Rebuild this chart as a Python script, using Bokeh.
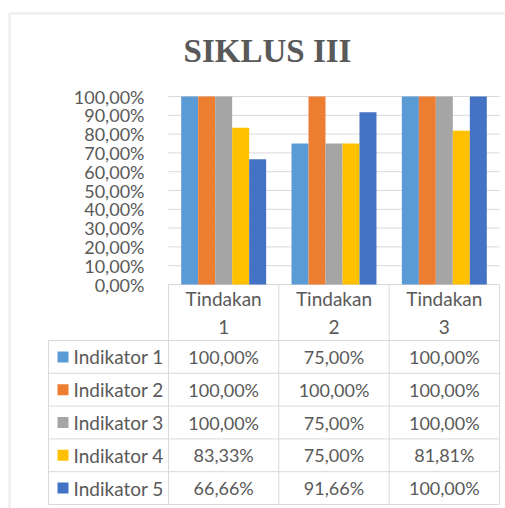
from bokeh.plotting import figure
from bokeh.models import Range1d, FixedTicker, LinearAxis, ColumnDataSource
from bokeh.embed import file_html
from bokeh.resources import INLINE
from bokeh.transform import dodge
from bokeh.core.properties import value

# ---------------- data ----------------
chart_title = "SIKLUS III"
categories = ["Tindakan 1", "Tindakan 2", "Tindakan 3"]
header_labels = ["Tindakan\n1", "Tindakan\n2", "Tindakan\n3"]
series_names = ["Indikator 1", "Indikator 2", "Indikator 3", "Indikator 4", "Indikator 5"]
indikator_1 = [100.00, 75.00, 100.00]
indikator_2 = [100.00, 100.00, 100.00]
indikator_3 = [100.00, 75.00, 100.00]
indikator_4 = [83.33, 75.00, 81.81]
indikator_5 = [66.66, 91.66, 100.00]
y_ticks = [0, 10, 20, 30, 40, 50, 60, 70, 80, 90, 100]
y_tick_labels = ["0,00%", "10,00%", "20,00%", "30,00%", "40,00%", "50,00%",
                 "60,00%", "70,00%", "80,00%", "90,00%", "100,00%"]
colors = ["#5B9BD5", "#ED7D31", "#A5A5A5", "#FFC000", "#4472C4"]

series = [indikator_1, indikator_2, indikator_3, indikator_4, indikator_5]

# ---------------- layout / style constants (pixels) ----------------
W, H = 505, 508
TXT = "#595959"
GRID = "#D9D9D9"
FRAME_LINE = "#EBEBEB"
FONT = "Lato"
X0_PX = 168.0          # px of the first category's left edge
CAT_PX = 110.33        # px per category
ZERO_Y = 284.0         # px of the 0 % line
PX_PER_PCT = 1.88      # px per 1 %
ROW_PX = 32.8          # table row height
HEADER_PX = 56.0       # table header height
LEGEND_PX = 120.0      # legend column width
BORDER_X, BORDER_Y = 9.0, 13.0
TITLE_CX, TITLE_CY = 267.0, 50.0

def ux(px):
    return (px - X0_PX) / CAT_PX

def upct(py):
    return (ZERO_Y - py) / PX_PER_PCT

HEADER_ROWS = HEADER_PX / ROW_PX

def urow(py):
    return -HEADER_ROWS + (py - ZERO_Y) / ROW_PX

LEGEND_W = LEGEND_PX / CAT_PX

p = figure(width=W, height=H, x_range=Range1d(ux(0), ux(W)), y_range=Range1d(upct(H), upct(0)),
           output_backend="svg", toolbar_location=None,
           x_axis_location=None, y_axis_location=None,
           min_border_left=0, min_border_right=0, min_border_top=0, min_border_bottom=0)
p.extra_y_ranges = {"table": Range1d(urow(H), urow(0))}
p.background_fill_color = "white"
p.border_fill_color = "white"
p.outline_line_color = None
p.grid.visible = False

# faint chart-area border (top + left edges)
p.segment(x0=[ux(BORDER_X), ux(BORDER_X)], x1=[ux(W), ux(BORDER_X)],
          y0=[upct(BORDER_Y), upct(BORDER_Y)], y1=[upct(BORDER_Y), upct(H)],
          line_color=FRAME_LINE, line_width=2)

# ---------------- bars ----------------
xpos = [j + 0.5 for j in range(len(categories))]
src = ColumnDataSource(dict(cat=categories, xpos=xpos, **{f"s{i}": s for i, s in enumerate(series)}))

p.segment(x0=[0] * len(y_ticks), x1=[len(categories)] * len(y_ticks), y0=y_ticks, y1=y_ticks,
          line_color=GRID, line_width=1)

bw = 0.154
for i in range(len(series)):
    off = (i - 2) * bw
    p.vbar(x=dodge("xpos", off), top=f"s{i}", bottom=0, width=bw, source=src,
           fill_color=colors[i], line_color=None)

yaxis = LinearAxis(fixed_location=0, ticker=FixedTicker(ticks=y_ticks))
yaxis.major_label_overrides = {t: l for t, l in zip(y_ticks, y_tick_labels)}
yaxis.axis_line_color = None
yaxis.major_tick_line_color = None
yaxis.minor_tick_line_color = None
yaxis.major_label_standoff = 18
yaxis.major_label_text_font = FONT
yaxis.major_label_text_font_size = "18px"
yaxis.major_label_text_color = TXT
p.add_layout(yaxis, "left")

p.text(x=[ux(TITLE_CX)], y=[upct(TITLE_CY)], text=[chart_title], text_font=value("Liberation Serif"),
       text_font_style="bold", text_font_size="33px", text_color=TXT,
       text_align="center", text_baseline="middle")

# ---------------- data table ----------------
n_rows = len(series_names)
n_cols = len(categories)
T = dict(y_range_name="table", line_color=GRID, line_width=1)
p.segment(x0=[-LEGEND_W] * (n_rows + 1), x1=[n_cols] * (n_rows + 1),
          y0=list(range(n_rows + 1)), y1=list(range(n_rows + 1)), **T)
p.segment(x0=list(range(n_cols + 1)), x1=list(range(n_cols + 1)),
          y0=[-HEADER_ROWS] * (n_cols + 1), y1=[n_rows] * (n_cols + 1), **T)
p.segment(x0=[-LEGEND_W], x1=[-LEGEND_W], y0=[0], y1=[n_rows], **T)

p.text(x=xpos, y=[-HEADER_ROWS / 2] * n_cols, text=header_labels, y_range_name="table",
       text_font=value(FONT), text_font_size="19px", text_color=TXT,
       text_align="center", text_baseline="middle", text_line_height=1.2)

row_y = [i + 0.5 for i in range(n_rows)]
p.scatter(x=[-LEGEND_W + 14.5 / CAT_PX] * n_rows, y=row_y, y_range_name="table", marker="square",
          size=11, fill_color=colors, line_color=None)
p.text(x=[-LEGEND_W] * n_rows, y=row_y, text=series_names, x_offset=25, y_range_name="table",
       text_font=value(FONT), text_font_size="19px", text_color=TXT,
       text_align="left", text_baseline="middle")

cx, cy, ct = [], [], []
for i, s in enumerate(series):
    for j, v in enumerate(s):
        cx.append(xpos[j])
        cy.append(i + 0.5)
        ct.append(f"{v:.2f}".replace(".", ",") + "%")
p.text(x=cx, y=cy, text=ct, y_range_name="table", text_font=value(FONT), text_font_size="18px",
       text_color=TXT, text_align="center", text_baseline="middle")

open("out.html", "w").write(file_html(p, INLINE))
